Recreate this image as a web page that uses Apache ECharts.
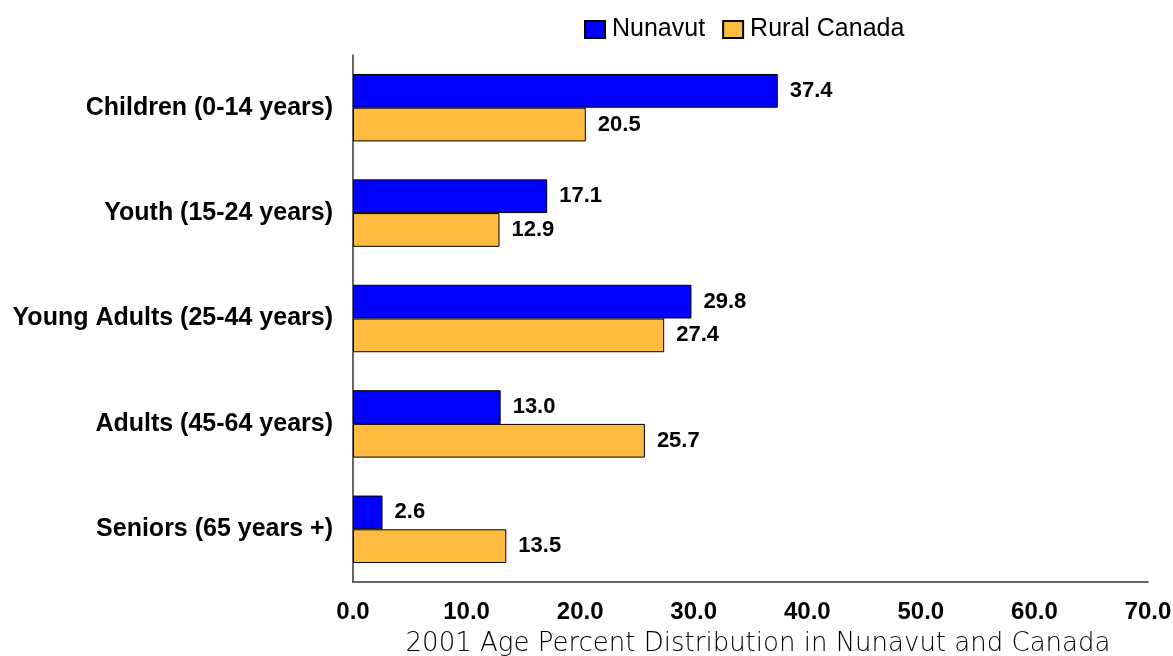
<!DOCTYPE html>
<html>
<head>
<meta charset="utf-8">
<script src="https://cdn.jsdelivr.net/npm/echarts@6/dist/echarts.min.js"></script>
<style>
html,body{margin:0;padding:0;background:#fff;}
#chart{width:1173px;height:656px;}
</style>
</head>
<body>
<div id="chart"></div>
<script>
const categories = ["Children (0-14 years)", "Youth (15-24 years)", "Young Adults (25-44 years)", "Adults (45-64 years)", "Seniors (65 years +)"];
const nunavut = [37.4, 17.1, 29.8, 13.0, 2.6];
const ruralCanada = [20.5, 12.9, 27.4, 25.7, 13.5];
const seriesNames = ["Nunavut", "Rural Canada"];
const axisTitle = "2001 Age Percent Distribution in Nunavut and Canada";

const chart = echarts.init(document.getElementById('chart'), null, {renderer: 'canvas'});
const labelStyle = {
  show: true, position: 'right', distance: 12,
  fontFamily: 'Liberation Sans, Arial, sans-serif', fontWeight: 'bold', fontSize: 22, color: '#000',
  padding: [6,0,0,0],
  formatter: p => p.value.toFixed(1)
};
chart.setOption({
  animation: false,
  backgroundColor: '#fff',
  legend: {
    left: 579, top: 12,
    icon: 'rect',
    itemWidth: 20, itemHeight: 17, itemGap: 17,
    textStyle: {fontFamily: 'Liberation Sans, Arial, sans-serif', fontSize: 25, color: '#000', padding: [0,0,0,2]},
    data: seriesNames
  },
  grid: {left: 353, right: 25, top: 55, bottom: 74, containLabel: false, outerBoundsMode: 'none'},
  xAxis: {
    type: 'value', min: 0, max: 70, interval: 10,
    axisLine: {show: true, lineStyle: {color: '#333', width: 1.5}},
    axisTick: {show: false},
    splitLine: {show: false},
    axisLabel: {
      margin: 18, fontFamily: 'Liberation Sans, Arial, sans-serif', fontWeight: 'bold', fontSize: 24, color: '#000',
      formatter: v => v.toFixed(1)
    },
    name: axisTitle, nameLocation: 'middle', nameGap: 49,
    nameTextStyle: {fontFamily: 'DejaVu Sans, sans-serif', fontWeight: 200, fontSize: 26, color: '#000', padding: [0,0,0,15]}
  },
  yAxis: {
    type: 'category', data: categories, inverse: true,
    axisLine: {show: true, lineStyle: {color: '#333', width: 1.5}},
    axisTick: {show: false},
    axisLabel: {margin: 20, fontFamily: 'Liberation Sans, Arial, sans-serif', fontWeight: 'bold', fontSize: 25, color: '#000'}
  },
  series: [
    {name: seriesNames[0], type: 'bar', data: nunavut, barGap: '0%', barCategoryGap: '36%',
     itemStyle: {color: '#0000FF', borderColor: '#000', borderWidth: 1}, label: labelStyle},
    {name: seriesNames[1], type: 'bar', data: ruralCanada, barGap: '0%', barCategoryGap: '36%',
     itemStyle: {color: '#FFBA40', borderColor: '#000', borderWidth: 1}, label: labelStyle}
  ]
});
</script>
</body>
</html>
